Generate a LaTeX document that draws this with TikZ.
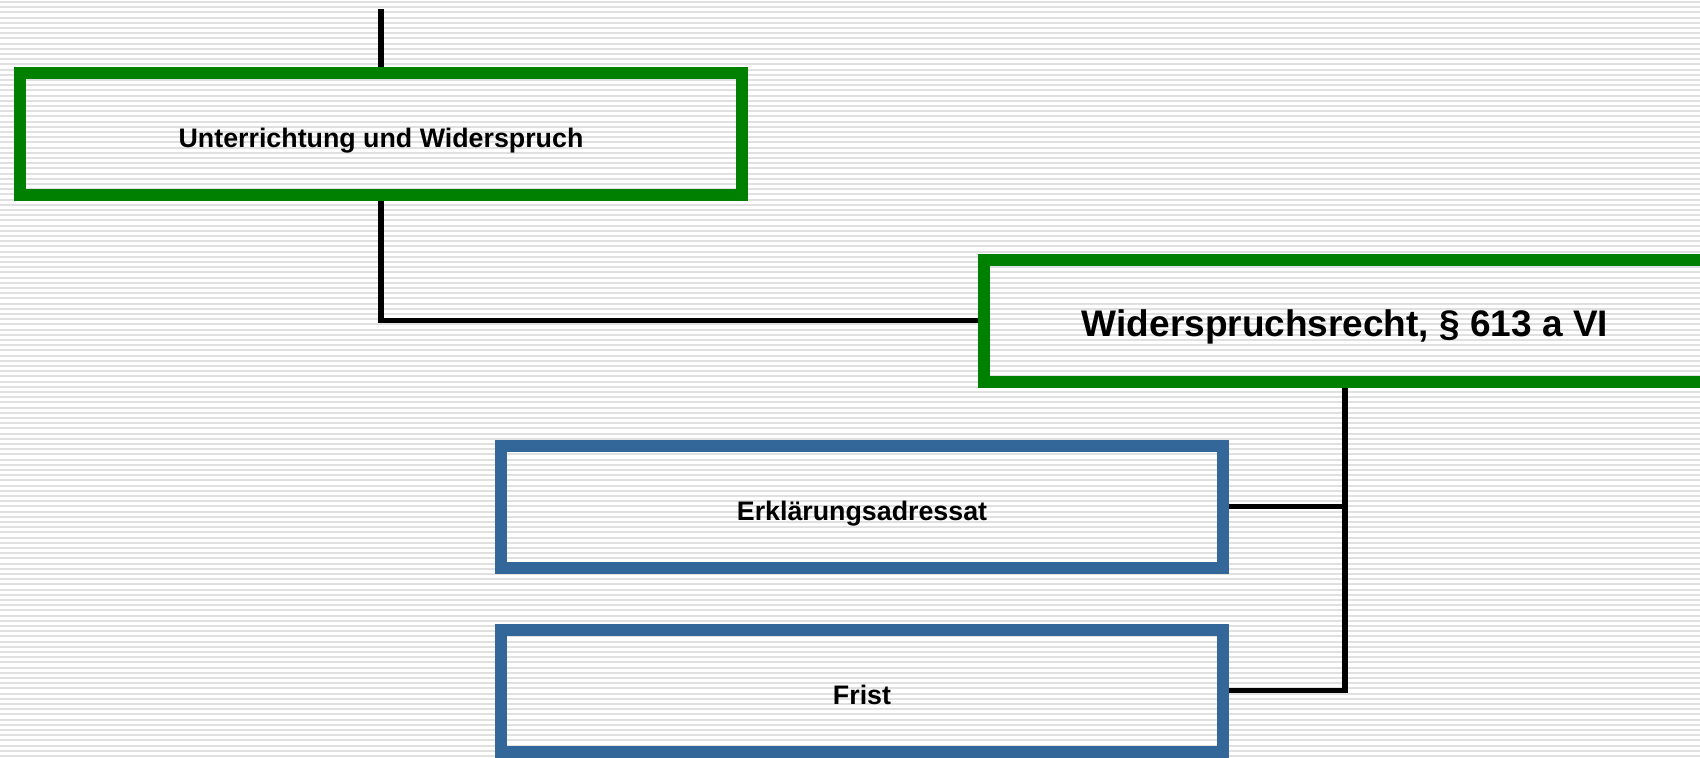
\documentclass[tikz,border=0pt]{standalone}
\usepackage{fontspec}
\setmainfont{Liberation Sans}
\usetikzlibrary{positioning}

\definecolor{boxgreen}{RGB}{0,128,0}
\definecolor{boxblue}{RGB}{51,102,153}
\definecolor{ruling}{RGB}{224,224,224}

\begin{document}
\begin{tikzpicture}[x=0.5pt,y=-0.5pt,
	box/.style={draw,rectangle,line width=6pt,inner sep=0pt,
		minimum width=361pt,minimum height=61pt,
		text height=13.8pt,text depth=0pt,
		font=\bfseries\fontsize{13.4}{16}\selectfont},
	greenbox/.style={box,draw=boxgreen},
	bluebox/.style={box,draw=boxblue},
	link/.style={draw=black,line width=2.75pt}]
	\useasboundingbox (0,0) rectangle (1700,757);
	% ruled background
	\foreach \y in {2,7.2,...,757}
		\draw[ruling,line width=1pt] (0,\y) -- (1700,\y);

	\node[greenbox,text height=16.2pt,font=\bfseries\fontsize{18.5}{22}\selectfont] (wid) at (1345,320.5) {Widerspruchsrecht, \S\ 613 a VI};
	\node[greenbox] (unt) at (381,134) {Unterrichtung und Widerspruch};
	\node[bluebox] (erk) at (862,506.5) {Erklärungsadressat};
	\node[bluebox] (frist) [below = 25pt of erk] {Frist};

	\coordinate (in) at (381,9);

	\path[link] (in) -- (unt.north);
	\path[link] (unt.south) |- (wid.west);
	\path[link] (erk.east) -| (wid.south);
	\path[link] (frist.east) -| (wid.south);
\end{tikzpicture}
\end{document}
